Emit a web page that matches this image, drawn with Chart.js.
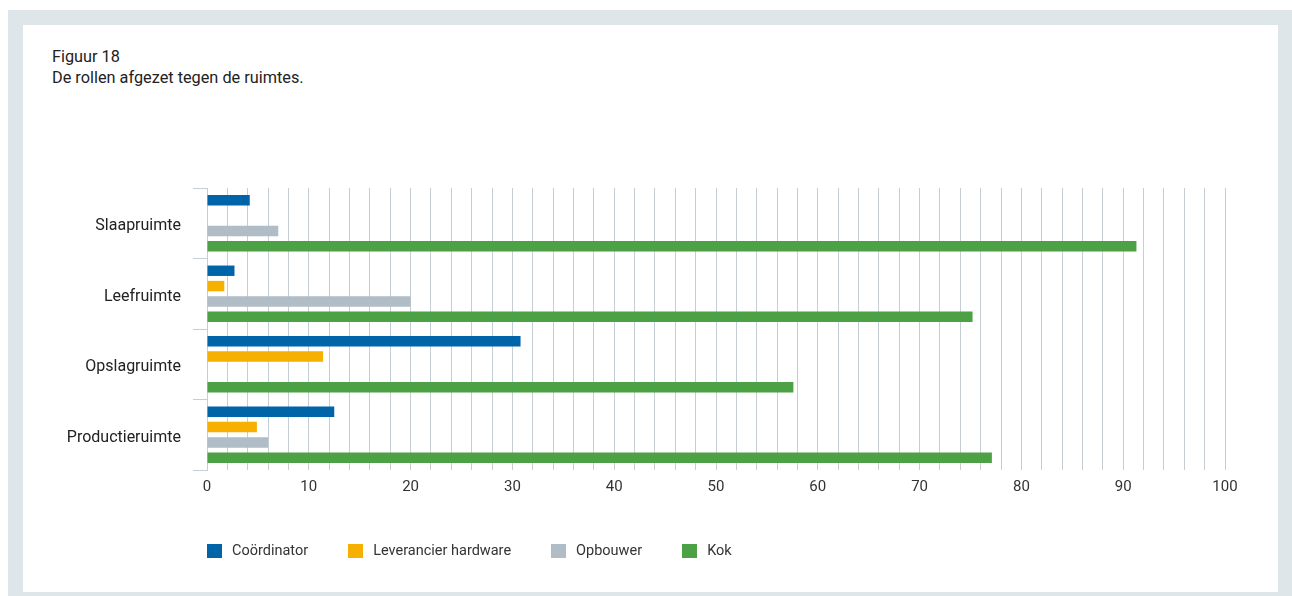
<!DOCTYPE html>
<html>
<head>
<meta charset="utf-8">
<script src="https://cdn.jsdelivr.net/npm/chart.js@4/dist/chart.umd.min.js"></script>
<style>
  html, body { margin: 0; padding: 0; background: #ffffff; }
  body { width: 1292px; height: 596px; position: relative; overflow: hidden; font-family: Roboto, "Noto Sans", sans-serif; }
  #frame { position: absolute; left: 8px; top: 10px; width: 1284px; height: 586px; background: #dfe6e9; }
  #panel { position: absolute; left: 23px; top: 25px; width: 1255px; height: 567px; background: #ffffff; }
  #title { position: absolute; left: 52px; top: 46px; font-size: 16.3px; line-height: 21px; color: #222; }
  #chartWrap { position: absolute; left: 0; top: 0; width: 1292px; height: 596px; }
  #legend { position: absolute; left: 207px; top: 542px; display: flex; align-items: center; font-size: 14.5px; color: #333; }
  .item { display: flex; align-items: center; margin-right: 40px; }
  .box { width: 15px; height: 14px; margin-right: 10px; }
</style>
</head>
<body>
<div id="frame"></div>
<div id="panel"></div>
<div id="title">Figuur 18<br>De rollen afgezet tegen de ruimtes.</div>
<div id="chartWrap"><canvas id="c" width="1292" height="596"></canvas></div>
<div id="legend"></div>
<script>
const categories = ["Slaapruimte", "Leefruimte", "Opslagruimte", "Productieruimte"];
const seriesNames = ["Coördinator", "Leverancier hardware", "Opbouwer", "Kok"];
const coordinator = [4.2, 2.7, 30.8, 12.5];
const leverancierHardware = [0, 1.7, 11.4, 4.9];
const opbouwer = [7.0, 20.0, 0, 6.0];
const kok = [91.3, 75.2, 57.6, 77.1];
const xTickLabels = [0, 10, 20, 30, 40, 50, 60, 70, 80, 90, 100];
const seriesColors = ["#0064a9", "#f6b000", "#b0bcc6", "#4ba143"];

const seriesValues = [coordinator, leverancierHardware, opbouwer, kok];
const gridColor = "#c3ced6";

const datasets = seriesNames.map((name, i) => ({
  label: name,
  data: seriesValues[i],
  backgroundColor: seriesColors[i],
  borderWidth: 0,
  categoryPercentage: 0.87,
  barPercentage: 0.68
}));

new Chart(document.getElementById("c"), {
  type: "bar",
  data: { labels: categories, datasets },
  options: {
    indexAxis: "y",
    responsive: false,
    animation: false,
    layout: { padding: { left: 0, top: 188, right: 67, bottom: 86 } },
    plugins: { legend: { display: false }, tooltip: { enabled: false } },
    scales: {
      x: {
        min: 0, max: 100,
        afterFit: (s) => { s.height = 40; },
        ticks: {
          stepSize: 2,
          autoSkip: false,
          maxRotation: 0,
          padding: 8,
          color: "#333",
          font: { family: "Roboto", size: 15 },
          callback: (v) => xTickLabels.includes(v) ? String(v) : ""
        },
        grid: { color: gridColor, lineWidth: 1, drawTicks: false },
        border: { display: false }
      },
      y: {
        afterFit: (s) => { s.width = 207; },
        offset: true,
        ticks: { padding: 12, labelOffset: 3, color: "#222", font: { family: "Roboto", size: 16 } },
        grid: { offset: true, drawOnChartArea: false, drawTicks: true, tickLength: 14, color: gridColor, lineWidth: 1 },
        border: { display: true, color: gridColor }
      }
    }
  }
});

const legend = document.getElementById("legend");
seriesNames.forEach((name, i) => {
  const it = document.createElement("div");
  it.className = "item";
  const b = document.createElement("div");
  b.className = "box";
  b.style.background = seriesColors[i];
  const t = document.createElement("span");
  t.textContent = name;
  it.appendChild(b); it.appendChild(t);
  legend.appendChild(it);
});
</script>
</body>
</html>
